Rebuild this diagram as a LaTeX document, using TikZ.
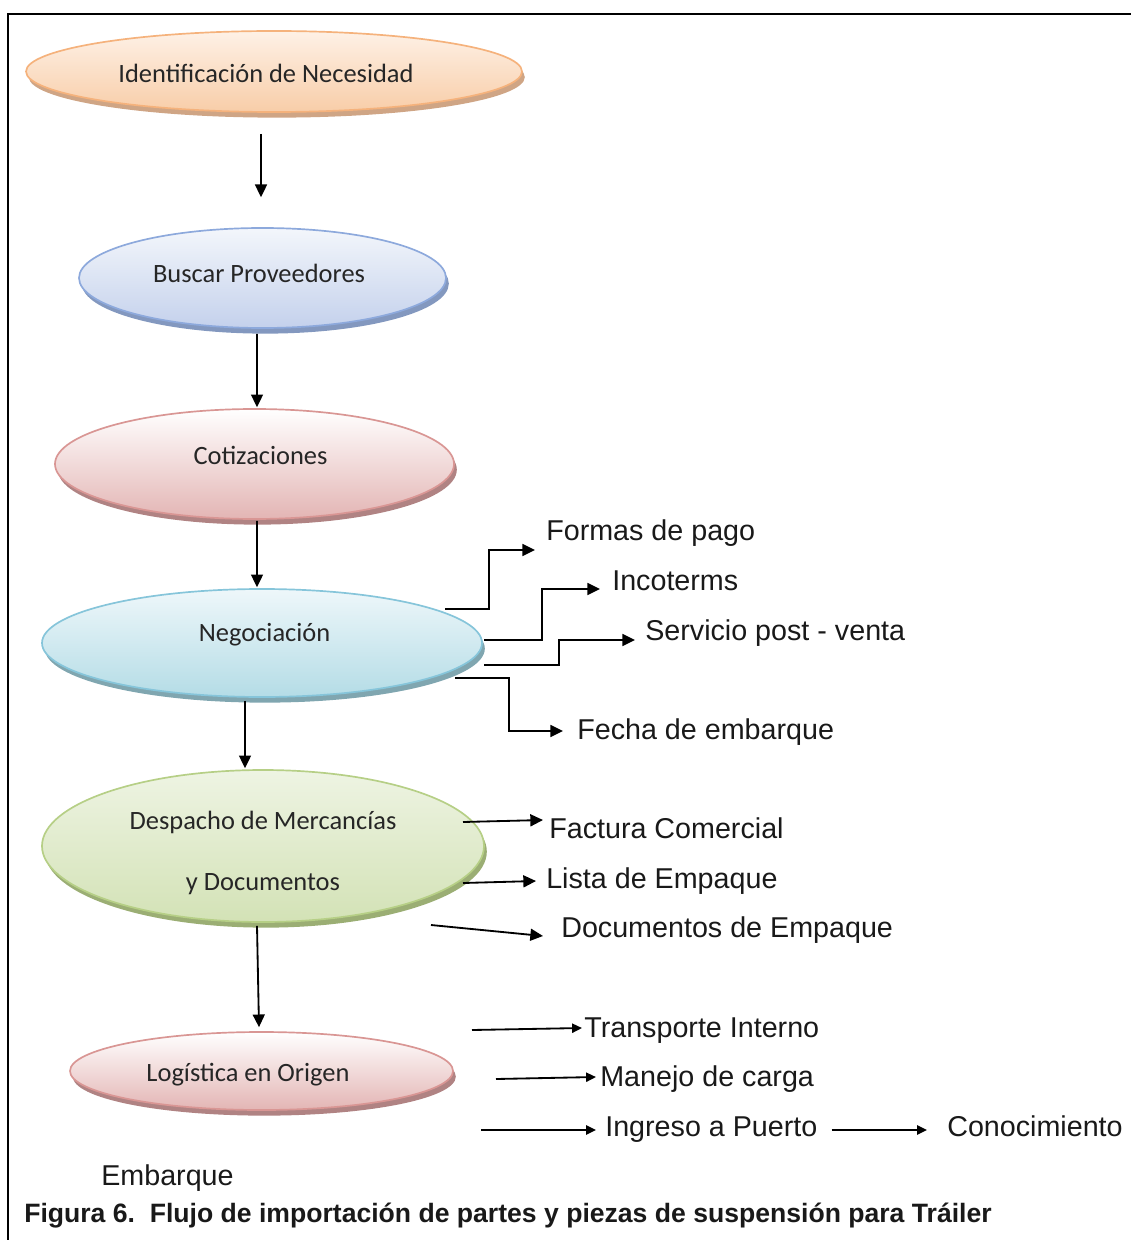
\documentclass[tikz,border=0pt]{standalone}
\usepackage{fontspec}
\setmainfont{Liberation Sans}
\newfontfamily\calfont{Carlito}
\usetikzlibrary{calc,arrows.meta,shapes.geometric,shadows}

\definecolor{naranjaB}{HTML}{F5B27C}
\definecolor{naranjaS}{HTML}{CFA585}
\definecolor{naranjaA}{HTML}{FEF1E6}
\definecolor{naranjaZ}{HTML}{F8CDA8}
\definecolor{azulB}{HTML}{8DA9DC}
\definecolor{azulS}{HTML}{8398BF}
\definecolor{azulA}{HTML}{F3F6FB}
\definecolor{azulZ}{HTML}{C4D1EC}
\definecolor{rosaB}{HTML}{D99694}
\definecolor{rosaS}{HTML}{B08383}
\definecolor{rosaA}{HTML}{FFFFFF}
\definecolor{rosaZ}{HTML}{E3B5B4}
\definecolor{cianB}{HTML}{86C5DA}
\definecolor{cianS}{HTML}{80A6B0}
\definecolor{cianA}{HTML}{EEF7FA}
\definecolor{cianZ}{HTML}{B4DCE6}
\definecolor{verdeB}{HTML}{B6CF86}
\definecolor{verdeS}{HTML}{9BAE74}
\definecolor{verdeA}{HTML}{EEF4E3}
\definecolor{verdeZ}{HTML}{D3E2B6}

\begin{document}
\begin{tikzpicture}[x=0.025cm,y=-0.025cm,
  etapa/.style={ellipse,inner sep=0pt,line width=1.2pt},
  texto/.style={inner sep=0pt,text=black!85,font=\calfont\fontsize{18.8}{22}\selectfont},
  naranja/.style={etapa,draw=naranjaB,top color=naranjaA,bottom color=naranjaZ,
    drop shadow={fill=naranjaS,opacity=1,shadow xshift=2pt,shadow yshift=-4pt}},
  azul/.style={etapa,draw=azulB,top color=azulA,bottom color=azulZ,
    drop shadow={fill=azulS,opacity=1,shadow xshift=2pt,shadow yshift=-4pt}},
  rosa/.style={etapa,draw=rosaB,top color=rosaA,bottom color=rosaZ,
    drop shadow={fill=rosaS,opacity=1,shadow xshift=2pt,shadow yshift=-4pt}},
  cian/.style={etapa,draw=cianB,top color=cianA,bottom color=cianZ,
    drop shadow={fill=cianS,opacity=1,shadow xshift=2pt,shadow yshift=-4pt}},
  verde/.style={etapa,draw=verdeB,top color=verdeA,bottom color=verdeZ,
    drop shadow={fill=verdeS,opacity=1,shadow xshift=2pt,shadow yshift=-4pt}},
  paso/.style={anchor=base west,inner sep=0pt,font=\fontsize{20.4}{24}\selectfont,text=black!90},
  flecha/.style={line width=1.3pt,-{Triangle[length=9pt,width=8.5pt]}},
  flechita/.style={line width=1.3pt,-{Triangle[length=7pt,width=6.5pt]}}]
\useasboundingbox (0,0) rectangle (1130,1240);
\draw[line width=1.5pt] (8,1240) -- (8,14) -- (1140,14);

% etapas
\node[naranja,minimum width=496*0.025cm,minimum height=81*0.025cm,
  label={[texto,shift={(-8,2)}]center:Identificación de Necesidad}] (idn) at (274,71.5) {};
\node[azul,minimum width=367*0.025cm,minimum height=100*0.025cm,
  label={[texto,shift={(-3.5,-5)}]center:Buscar Proveedores}] (bus) at (262.5,278) {};
\node[rosa,minimum width=399*0.025cm,minimum height=110*0.025cm,
  label={[texto,shift={(6,-9)}]center:Cotizaciones}] (cot) at (254.5,464) {};
\node[cian,minimum width=440*0.025cm,minimum height=108*0.025cm,
  label={[texto,shift={(2.5,-8)}]center:Negociación}] (neg) at (262,643) {};
\node[verde,minimum width=442*0.025cm,minimum height=152*0.025cm,
  label={[texto,align=center,shift={(0,7)}]center:Despacho de Mercancías\\[21pt]y Documentos}] (des) at (263,846) {};
\node[rosa,minimum width=383*0.025cm,minimum height=78*0.025cm,
  label={[texto,shift={(-13.5,4)}]center:Logística en Origen}] (log) at (261.5,1071) {};

\draw[flecha] ($(idn.south)+(-13,21)$) -- ($(bus.north)+(-1.5,-30)$);
\draw[flecha] ($(bus.south)+(-5.5,5)$) -- ($(cot.north)+(2.5,-1)$);
\draw[flecha] ($(cot.south)+(2.5,1)$) -- ($(neg.north)+(-5,-1)$);
\draw[flecha] ($(neg.south)+(-17,3)$) -- ($(des.north)+(-18,-1)$);
\draw[flecha] ($(des.south)+(-6,3)$) -- ($(log.north)+(-2.5,-4)$);

% negociacion
\node[paso] (fpago) at (546,540) {Formas de pago};
\node[paso] (inco) at (612,590) {Incoterms};
\node[paso] (serv) at (645,640) {Servicio post - venta};
\node[paso] (fecha) at (577,739) {Fecha de embarque};
\coordinate (n1) at (445,609);
\coordinate (n2) at (484,640);
\coordinate (n3) at (484,665);
\coordinate (n4) at (455,678);
\draw[flecha] (n1) -- (489,609) |- ($(fpago.base west)+(-11,10)$);
\draw[flecha] (n2) -- (542,640) |- ($(inco.base west)+(-12,-1)$);
\draw[flecha] (n3) -- (559,665) |- ($(serv.base west)+(-10,0)$);
\draw[flecha] (n4) -- (509,678) |- ($(fecha.base west)+(-14,-8)$);

% despacho
\node[paso] (fact) at (549,838) {Factura Comercial};
\node[paso] (lista) at (546,888) {Lista de Empaque};
\node[paso] (docs) at (561,937) {Documentos de Empaque};
\coordinate (d1) at (463,822);
\coordinate (d2) at (463,883);
\coordinate (d3) at (431,925);
\draw[flecha] (d1) -- ($(fact.base west)+(-6,-18)$);
\draw[flecha] (d2) -- ($(lista.base west)+(-10,-7)$);
\draw[flecha] (d3) -- ($(docs.base west)+(-18,-1)$);

% logistica
\node[paso] (trans) at (584,1037) {Transporte Interno};
\node[paso] (manejo) at (600,1086) {Manejo de carga};
\node[paso] (ingreso) at (605,1136) {Ingreso a Puerto};
\node[paso] (conoc) at (947,1136) {Conocimiento};
\node[paso] (emb) at (101,1185) {Embarque};
\coordinate (l1) at (472,1030);
\coordinate (l2) at (496,1079);
\coordinate (l3) at (481,1130);
\draw[flechita] (l1) -- ($(trans.base west)+(-2,-9)$);
\draw[flechita] (l2) -- ($(manejo.base west)+(-4,-9)$);
\draw[flechita] (l3) -- ($(ingreso.base west)+(-9,-6)$);
\draw[flechita] ($(ingreso.base east)+(14,-6)$) -- ($(conoc.base west)+(-20,-6)$);

\node[paso,font=\bfseries\fontsize{18.9}{22}\selectfont] (fig) at (24,1222)
  {Figura 6.\ \ Flujo de importación de partes y piezas de suspensión para Tráiler};
\end{tikzpicture}
\end{document}
